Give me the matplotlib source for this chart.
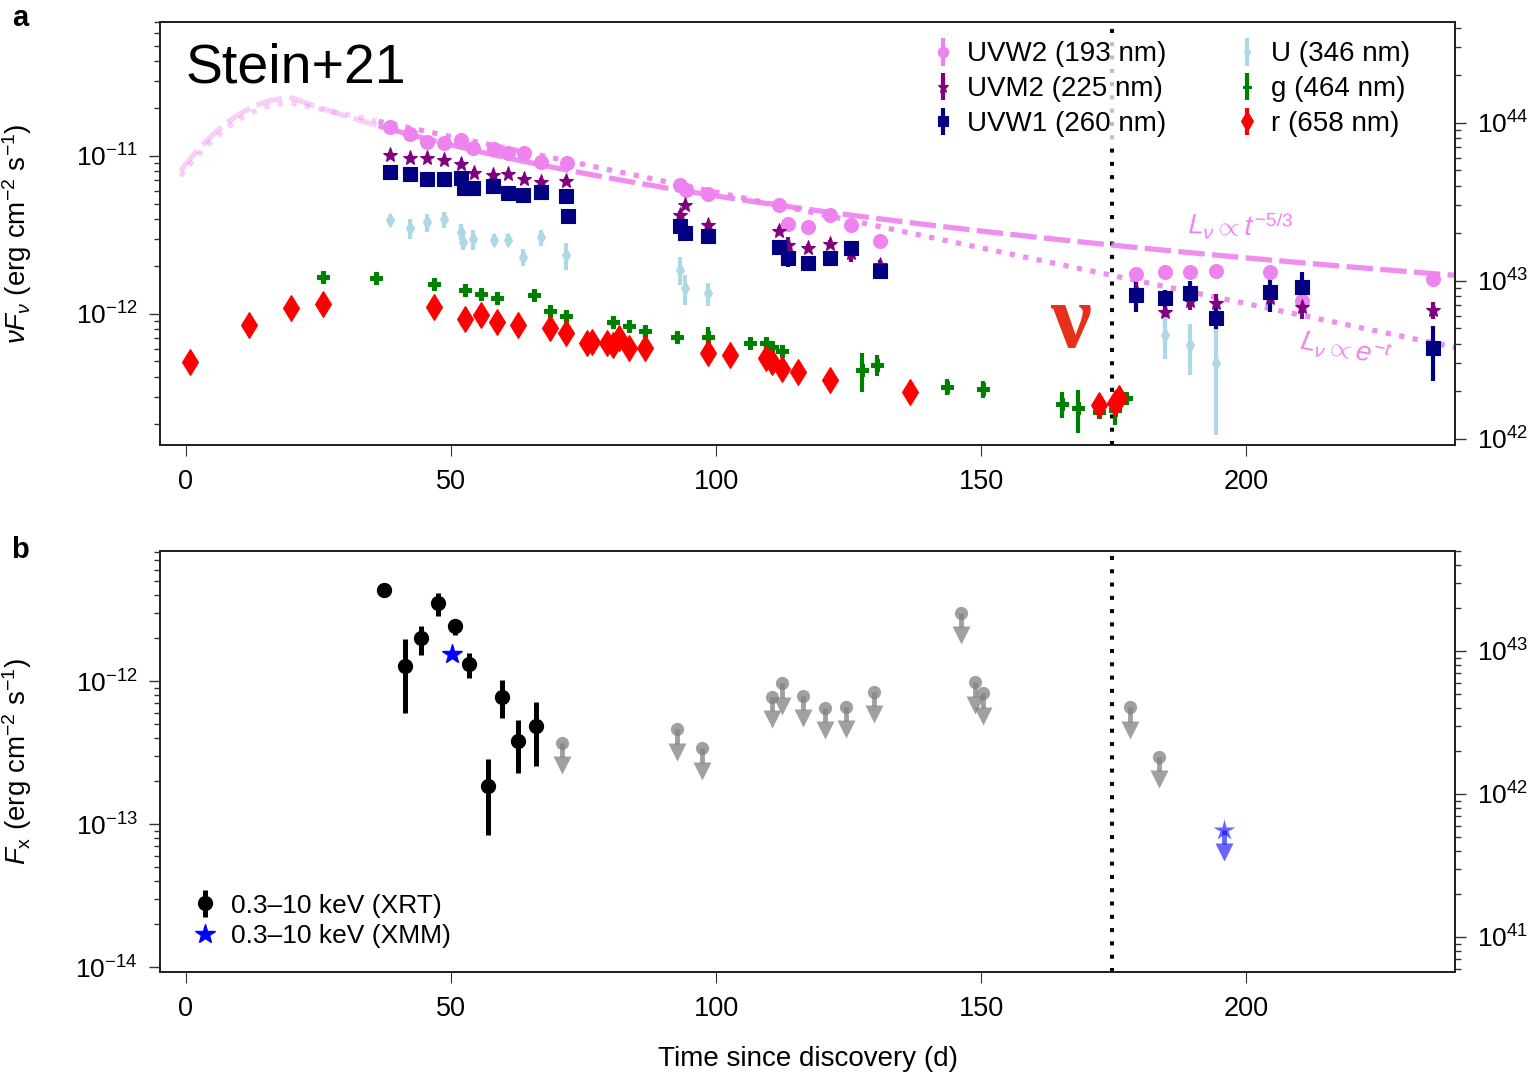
import numpy as np
import matplotlib
matplotlib.use("Agg")
import matplotlib.pyplot as plt
from matplotlib.ticker import NullFormatter, FixedLocator

plt.rcParams.update({
    "font.family": ["Liberation Sans", "DejaVu Sans"],
    "mathtext.fontset": "custom",
    "mathtext.rm": "Liberation Sans",
    "mathtext.it": "Liberation Sans:italic",
    "mathtext.bf": "Liberation Sans:bold",
    "mathtext.sf": "Liberation Sans",
    "axes.linewidth": 1.4,
    "axes.edgecolor": "#222222",
})

# ---------------- UV / optical photometry (days, nuF_nu in 1e-12 erg/cm2/s) ----
uvw2_t = [38.4, 42.3, 45.4, 48.6, 51.9, 54.2, 58.2, 60.7, 63.8, 67.0, 71.9,
          93.2, 94.3, 98.4, 111.8, 113.5, 117.4, 121.5, 125.5, 130.9,
          179.2, 184.6, 189.4, 194.3, 204.4, 210.5, 235.3]
uvw2_f = [15.2, 13.7, 12.3, 12.1, 12.6, 11.3, 11.0, 10.5, 10.4, 9.2, 9.0,
          6.55, 6.09, 5.72, 4.88, 3.71, 3.57, 4.24, 3.66, 2.91,
          1.78, 1.85, 1.83, 1.88, 1.85, 1.20, 1.66]
uvw2_e = [0.04] * 10 + [0.08] + [0.04] * 9 + [0.05, 0.05, 0.05, 0.06, 0.06, 0.08, 0.06]

uvm2_t = [38.4, 42.3, 45.4, 48.6, 51.9, 54.4, 58.0, 60.7, 63.8, 67.0, 71.7,
          93.2, 94.2, 98.4, 111.8, 113.5, 117.4, 121.5, 125.5, 130.9,
          179.2, 184.6, 189.4, 194.3, 204.4, 210.5, 235.3]
uvm2_f = [10.1, 9.67, 9.67, 9.43, 8.90, 7.84, 7.58, 7.69, 7.12, 6.88, 6.98,
          4.24, 4.90, 3.66, 3.36, 2.73, 2.63, 2.77, 2.43, 2.04,
          1.42, 1.03, 1.20, 1.17, 1.26, 1.11, 1.06]
uvm2_e = [0.05] * 15 + [0.13, 0.06, 0.06, 0.12, 0.08] + [0.12, 0.12, 0.12, 0.15, 0.12, 0.16, 0.12]

uvw1_t = [38.5, 42.3, 45.4, 48.6, 51.9, 52.4, 54.2, 58.0, 60.7, 63.6, 67.0, 71.7, 72.1,
          93.2, 94.2, 98.4, 111.8, 113.5, 117.4, 121.5, 125.5, 130.9,
          179.2, 184.6, 189.4, 194.3, 204.4, 210.5, 235.3]
uvw1_f = [7.96, 7.69, 7.15, 7.12, 7.23, 6.25, 6.25, 6.49, 5.81, 5.66, 5.94, 5.58, 4.17,
          3.62, 3.24, 3.13, 2.67, 2.25, 2.10, 2.27, 2.63, 1.87,
          1.32, 1.26, 1.36, 0.94, 1.38, 1.49, 0.607]
uvw1_e = [0.04] * 17 + [0.12, 0.05, 0.05, 0.05, 0.06] + [0.22, 0.12, 0.18, 0.20, 0.25, 0.23, 0.38]

u_t = [38.5, 42.3, 45.4, 48.6, 51.9, 52.2, 54.2, 58.2, 60.7, 63.6, 67.0, 71.7,
       93.2, 94.2, 98.4, 184.6, 189.4, 194.3]
u_f = [3.94, 3.49, 3.80, 3.97, 3.32, 2.87, 2.97, 2.94, 2.94, 2.29, 3.05, 2.36,
       1.90, 1.45, 1.35, 0.736, 0.636, 0.488]
u_e = [0.07, 0.15, 0.13, 0.12, 0.12, 0.12, 0.15, 0.09, 0.09, 0.12, 0.12, 0.20,
       0.20, 0.22, 0.17, 0.30, 0.35, 0.65]

g_t = [25.8, 35.8, 46.7, 52.7, 55.7, 58.7, 65.7, 68.7, 71.6, 80.6, 83.6, 86.6,
       92.6, 98.4, 106.4, 109.4, 110.5, 112.4, 127.6, 130.3, 143.5, 150.4,
       165.3, 168.3, 172.3, 175.3, 177.4]
g_f = [1.72, 1.68, 1.55, 1.42, 1.33, 1.26, 1.32, 1.05, 0.975, 0.894, 0.839, 0.784,
       0.718, 0.718, 0.658, 0.658, 0.621, 0.586, 0.442, 0.476, 0.347, 0.334,
       0.269, 0.253, 0.241, 0.247, 0.292]
g_e = [0.07] * 13 + [0.15, 0.07, 0.07, 0.07, 0.07, 0.28, 0.15, 0.12, 0.12,
                     0.19, 0.30, 0.08, 0.20, 0.05]

r_t = [0.8, 11.8, 19.8, 25.8, 46.7, 52.6, 55.7, 58.7, 62.7, 68.6, 71.6, 75.6,
       76.6, 79.4, 80.6, 81.6, 83.6, 86.6, 98.4, 102.6, 109.4, 110.5, 112.5,
       115.5, 121.5, 136.5, 172.3, 175.3, 176.1]
r_f = [0.494, 0.851, 1.09, 1.16, 1.11, 0.925, 0.986, 0.885, 0.851, 0.811, 0.761,
       0.658, 0.668, 0.653, 0.636, 0.702, 0.607, 0.607, 0.564, 0.550, 0.529,
       0.494, 0.446, 0.431, 0.382, 0.319, 0.265, 0.272, 0.293]
r_e = [0.08] + [0.05] * 24 + [0.14, 0.06, 0.06, 0.05]

# ---------------- X-ray (days, F_x in 1e-12 erg/cm2/s) ----------------
xrt_t = [37.4, 41.3, 44.3, 47.5, 50.8, 53.4, 57.0, 59.6, 62.6, 66.0]
xrt_f = [4.33, 1.27, 1.99, 3.49, 2.43, 1.31, 0.185, 0.777, 0.383, 0.487]
xrt_lo = [4.33, 0.60, 1.52, 2.86, 2.10, 1.05, 0.084, 0.548, 0.229, 0.255]
xrt_hi = [4.33, 1.96, 2.43, 4.10, 2.67, 1.57, 0.283, 1.02, 0.534, 0.716]

xmm_t = [50.1]
xmm_f = [1.55]

xrt_ul_t = [70.9, 92.6, 97.4, 110.6, 112.4, 116.4, 120.6, 124.5, 129.8,
            146.2, 148.9, 150.4, 178.0, 183.5]
xrt_ul_f = [0.370, 0.459, 0.338, 0.776, 0.964, 0.789, 0.650, 0.661, 0.842,
            3.01, 0.979, 0.820, 0.655, 0.296]

xmm_ul_t = [195.9]
xmm_ul_f = [0.0908]

# neutrino arrival
nu_time = 174.7

# light-curve models (peak, rise width, decline)
t_peak = 20.0
rise_sigma = 14.4
pl_peak = 23.3      # 1e-12, power-law model peak
pl_t0 = -39.0
exp_peak = 21.6     # 1e-12, exponential model peak
exp_tau = 61.6

# flux -> luminosity conversion (4 pi d^2)
lum_factor = 10 ** 54.79

SCALE = 1e-12
XLIM = (-4.9, 239.4)
YLIM_A = (1.48e-13, 7.05e-11)
YLIM_B = (9.23e-15, 8.11e-12)


def arr(v):
    return np.asarray(v, dtype=float) * SCALE


def rise(t):
    return np.exp(-(t - t_peak) ** 2 / (2 * rise_sigma ** 2))


def model_pl(t):
    return pl_peak * SCALE * np.where(
        t < t_peak, rise(t), ((t - pl_t0) / (t_peak - pl_t0)) ** (-5.0 / 3.0))


def model_exp(t):
    return exp_peak * SCALE * np.where(
        t < t_peak, rise(t), np.exp(-(t - t_peak) / exp_tau))


def decades_in(lo, hi):
    return [10.0 ** k for k in range(int(np.ceil(np.log10(lo))),
                                     int(np.floor(np.log10(hi))) + 1)]


def minors_in(lo, hi):
    out = []
    for k in range(int(np.floor(np.log10(lo))), int(np.ceil(np.log10(hi))) + 1):
        for m in range(2, 10):
            v = m * 10.0 ** k
            if lo <= v <= hi:
                out.append(v)
    return out


def set_log_ticks(axis, lo, hi):
    axis.set_major_locator(FixedLocator(decades_in(lo, hi)))
    axis.set_minor_locator(FixedLocator(minors_in(lo, hi)))
    axis.set_minor_formatter(NullFormatter())


fig = plt.figure(figsize=(15.31, 10.72), dpi=100)
axA = fig.add_axes([0.1045, 0.5849, 0.8459, 0.3946])
axB = fig.add_axes([0.1045, 0.0933, 0.8459, 0.3927])

tick_kw = dict(direction="out", color="#333333")

for ax, ylim in ((axA, YLIM_A), (axB, YLIM_B)):
    ax.set_yscale("log")
    ax.set_xlim(*XLIM)
    ax.set_ylim(*ylim)
    set_log_ticks(ax.yaxis, *ylim)
    ax.set_xticks([0, 50, 100, 150, 200])
    ax.tick_params(axis="x", which="major", length=8, width=0.8, pad=9,
                   labelsize=19.5, **tick_kw)
    ax.tick_params(axis="y", which="major", length=8, width=1.0, pad=8,
                   labelsize=19, **tick_kw)
    ax.tick_params(axis="y", which="minor", length=4.5, width=1.0, **tick_kw)
    ax.axvline(nu_time, color="black", lw=2.9, ls=(0, (1, 2.3)),
               dash_capstyle="butt", zorder=1)

    # luminosity axis on the right
    tw = ax.twinx()
    tw.set_yscale("log")
    lum_lim = (ylim[0] * lum_factor, ylim[1] * lum_factor)
    tw.set_ylim(*lum_lim)
    set_log_ticks(tw.yaxis, *lum_lim)
    tw.tick_params(axis="y", which="major", length=8, width=1.0, pad=8,
                   labelsize=19, **tick_kw)
    tw.tick_params(axis="y", which="minor", length=4.5, width=1.0, **tick_kw)

# ---------------- panel a ----------------
tt = np.linspace(-1.0, XLIM[1], 600)
early = tt <= 36
late = tt >= 36
for fn, dash in ((model_pl, (5, 1.4)), (model_exp, (1, 1.6))):
    yy = fn(tt)
    axA.plot(tt[early], yy[early], color="violet", lw=3.8, alpha=0.38,
             ls=(0, dash), dash_capstyle="butt", zorder=2)
    axA.plot(tt[late], yy[late], color="violet", lw=3.8, alpha=0.9,
             ls=(0, dash), dash_capstyle="butt", zorder=2)

series = [
    (uvw2_t, uvw2_f, uvw2_e, "o", 10, "violet", "UVW2 (193 nm)"),
    (uvm2_t, uvm2_f, uvm2_e, "*", 11, "purple", "UVM2 (225 nm)"),
    (uvw1_t, uvw1_f, uvw1_e, "s", 10, "navy", "UVW1 (260 nm)"),
    (u_t, u_f, u_e, "d", 7, "lightblue", "U (346 nm)"),
    (g_t, g_f, g_e, "P", 8, "green", "g (464 nm)"),
    (r_t, r_f, r_e, "d", 13, "red", "r (658 nm)"),
]
for t, f, e, m, ms, c, lab in series:
    f = arr(f)
    axA.errorbar(t, f, yerr=f * np.asarray(e), fmt=m, ms=ms, color=c,
                 mec=c, mew=0.8, elinewidth=3.0, capsize=0, label=lab, zorder=3)

axA.legend(loc="upper right", bbox_to_anchor=(0.98, 1.0), ncol=2,
           fontsize=20, markerscale=0.75, handlelength=0.6,
           handletextpad=0.55, columnspacing=2.6, labelspacing=0.32,
           borderpad=0.2, frameon=True, framealpha=0.75,
           facecolor="white", edgecolor="none")

axA.text(0.02, 0.858, "Stein+21", transform=axA.transAxes, fontsize=40,
         ha="left", va="baseline")
axA.text(0.7035, 0.284, "\u03bd", transform=axA.transAxes, fontsize=66,
         family="Liberation Serif", weight="bold", color="#e5301c",
         ha="center", va="center")
axA.text(0.793, 0.501, r"$L_\nu \propto t^{-5/3}$", transform=axA.transAxes,
         fontsize=20, color="violet", ha="left", va="baseline", rotation=-2,
         rotation_mode="anchor")
axA.text(0.879, 0.2246, r"$L_\nu \propto e^{-t}$", transform=axA.transAxes,
         fontsize=20, color="violet", ha="left", va="baseline", rotation=-11,
         rotation_mode="anchor")
axA.set_ylabel(r"$\nu F_\nu$ (erg cm$^{-2}$ s$^{-1}$)", fontsize=20)
axA.yaxis.set_label_coords(-0.097, 0.5)

# ---------------- panel b ----------------
xf = arr(xrt_f)
yerr = [xf - arr(xrt_lo), arr(xrt_hi) - xf]
h_xrt = axB.errorbar(xrt_t, xf, yerr=yerr, fmt="o", ms=10, color="black",
                     elinewidth=3.6, capsize=0, label="0.3\u201310 keV (XRT)",
                     zorder=3)
h_xmm, = axB.plot(xmm_t, arr(xmm_f), "*", ms=15, color="blue", ls="none",
                  label="0.3\u201310 keV (XMM)", zorder=3)

stem_dex = 0.10
head_dex = 0.157


def upper_limits(ax, t, f, marker, ms, color, alpha):
    f = arr(f)
    ax.plot(t, f, marker, ms=ms, color=color, mec="none", alpha=alpha, ls="none")
    ax.vlines(t, f * 10 ** (-stem_dex), f, color=color, lw=3.5, alpha=alpha)
    ax.plot(t, f * 10 ** (-head_dex), "v", ms=13, color=color, mec="none",
            alpha=alpha, ls="none")


upper_limits(axB, xrt_ul_t, xrt_ul_f, "o", 9.5, "gray", 0.75)
upper_limits(axB, xmm_ul_t, xmm_ul_f, "*", 16, "blue", 0.6)

axB.legend(handles=[h_xrt, h_xmm], loc="lower left",
           bbox_to_anchor=(0.008, 0.0), fontsize=19,
           handlelength=0.8, handletextpad=0.6, labelspacing=0.25,
           frameon=False)
axB.set_ylabel(r"$F_{\rm x}$ (erg cm$^{-2}$ s$^{-1}$)", fontsize=20)
axB.yaxis.set_label_coords(-0.097, 0.5)
axB.set_xlabel("Time since discovery (d)", fontsize=20)
axB.xaxis.set_label_coords(0.5, -0.175)

fig.text(0.013, 0.983, "a", fontsize=21, weight="bold", va="center", ha="center")
fig.text(0.013, 0.487, "b", fontsize=21, weight="bold", va="center", ha="center")

fig.savefig("out.png", dpi=100)
